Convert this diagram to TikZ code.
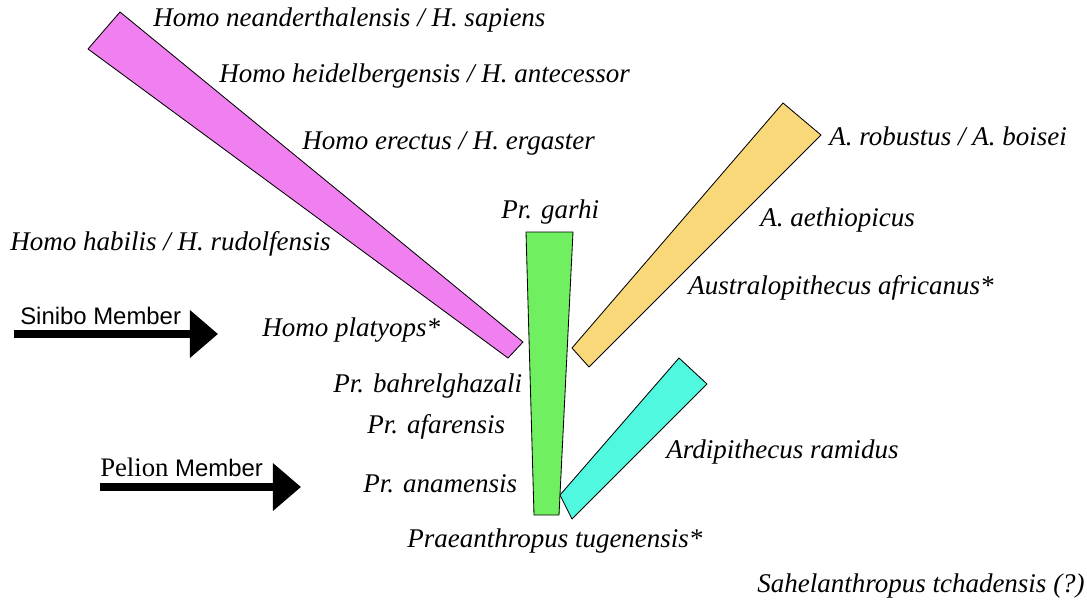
\documentclass[tikz,border=0pt]{standalone}
\usepackage{fontspec}
\setmainfont{Liberation Serif}
\setsansfont{Liberation Sans}
\usetikzlibrary{arrows.meta}
\usetikzlibrary{positioning}

\definecolor{homopink}{RGB}{240,128,240}
\definecolor{prgreen}{RGB}{112,240,96}
\definecolor{ausyellow}{RGB}{248,216,120}
\definecolor{ardcyan}{RGB}{80,248,224}

\tikzset{
  taxon/.style={font=\fontsize{19.2}{21}\selectfont\itshape, anchor=west, inner sep=0pt},
  member/.style={font=\fontsize{17}{19}\selectfont\sffamily, anchor=west, inner sep=0pt},
  memberarrow/.style={line width=0.2cm, -{Triangle[length=0.7cm,width=1.15cm]}},
  branch/.style={draw=black, line width=0.6pt, line join=round}
}

\begin{document}
\begin{tikzpicture}[x=0.025cm,y=-0.025cm]
\useasboundingbox (0,0) rectangle (1087,606);

% lineages
\draw[branch,fill=homopink] (120,12) -- (88,49) -- (508,358) -- (523,342) -- cycle;
\draw[branch,fill=prgreen] (526,232) -- (573,232) -- (559,515) -- (534,515) -- cycle;
\draw[branch,fill=ausyellow] (783,103) -- (821,135) -- (589,367) -- (572,348) -- cycle;
\draw[branch,fill=ardcyan] (679,358) -- (707,384) -- (572,519) -- (560,495) -- cycle;

% homo
\node[taxon] (sapiens) at (153,20) {Homo neanderthalensis / H. sapiens};
\node[taxon] (heidel) at (219,76) {Homo heidelbergensis / H. antecessor};
\node[taxon] (erectus) at (302,143) {Homo erectus / H. ergaster};
\node[taxon] (habilis) at (10,244) {Homo habilis / H. rudolfensis};
\node[taxon] (platyops) at (262,330) {Homo platyops*};

% praeanthropus
\node[taxon] (garhi) at (501,212) {Pr. garhi};
\node[taxon] (bahrel) at (333,386) {Pr. bahrelghazali};
\node[taxon] (afarensis) at (367,427) {Pr. afarensis};
\node[taxon] (anamensis) at (363,484) {Pr. anamensis};
\node[taxon] (tugenensis) at (407,541) {Praeanthropus tugenensis*};

% australopithecus
\node[taxon] (robustus) at (829,136) {A. robustus / A. boisei};
\node[taxon] (aethiop) at (760,220) {A. aethiopicus};
\node[taxon] (africanus) at (688,288) {Australopithecus africanus*};
\node[taxon] (ramidus) at (666,452) {Ardipithecus ramidus};
\node[taxon] (tchad) at (757,586) {Sahelanthropus tchadensis (?)};

% members
\coordinate (sinS) at (14,334);
\coordinate (sinT) at (218,334);
\draw[memberarrow] (sinS) -- (sinT);
\node[member] (sinibo) at (20,316) {Sinibo Member};

\coordinate (pelS) at (100,487);
\coordinate (pelT) at (301,487);
\draw[memberarrow] (pelS) -- (pelT);
\node[member] (pelion) at (100,467) {{\rmfamily\fontsize{19}{19}\selectfont Pelion} Member};

\end{tikzpicture}
\end{document}
